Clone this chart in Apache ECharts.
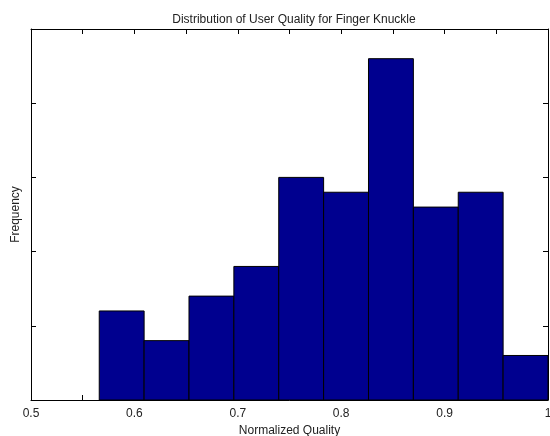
<!DOCTYPE html>
<html>
<head>
<meta charset="utf-8">
<script src="https://cdn.jsdelivr.net/npm/echarts@6/dist/echarts.min.js"></script>
<style>
  html, body { margin: 0; padding: 0; background: #fff; }
  #chart { width: 550px; height: 436px; }
</style>
</head>
<body>
<div id="chart"></div>
<script>
// histogram bins (edges of each bar, then counts)
const binStarts = [0.566, 0.6094, 0.6528, 0.6962, 0.7396, 0.783, 0.8264, 0.8698, 0.9132, 0.9566];
const binEnds   = [0.6094, 0.6528, 0.6962, 0.7396, 0.783, 0.8264, 0.8698, 0.9132, 0.9566, 1.0];
const counts    = [6, 4, 7, 9, 15, 14, 23, 13, 14, 3];

const titleText = 'Distribution of User Quality for Finger Knuckle';
const xName = 'Normalized Quality';
const yName = 'Frequency';

const font = 'Liberation Sans, Arial, sans-serif';
const textColor = '#222';

const chart = echarts.init(document.getElementById('chart'));

const data = counts.map((c, i) => [binStarts[i], binEnds[i], c]);

// tick styling shared by the four sides of the box
const xTicks = {
  type: 'value', min: 0.5, max: 1, interval: 0.1,
  axisLine: { show: true, onZero: false, lineStyle: { color: '#000', width: 1 } },
  axisTick: { show: true, inside: true, length: 5, lineStyle: { color: '#000' } },
  minorTick: { show: true, splitNumber: 2, length: 5, lineStyle: { color: '#000' } },
  splitLine: { show: false }
};
const yTicks = {
  type: 'value', min: 0, max: 25, interval: 5,
  axisLine: { show: true, onZero: false, lineStyle: { color: '#000', width: 1 } },
  axisTick: { show: true, inside: true, length: 5, lineStyle: { color: '#000' } },
  axisLabel: { show: false },
  splitLine: { show: false }
};

const option = {
  animation: false,
  backgroundColor: '#fff',
  title: {
    text: titleText,
    left: 289, top: 9, textAlign: 'center',
    textStyle: { fontFamily: font, fontSize: 12, fontWeight: 'normal', color: textColor }
  },
  grid: { left: 31, right: 2, top: 29, bottom: 36, containLabel: false, outerBoundsMode: 'none' },
  xAxis: [
    Object.assign({}, xTicks, {
      position: 'bottom',
      name: xName, nameLocation: 'middle', nameGap: 25,
      nameTextStyle: { fontFamily: font, fontSize: 12, color: textColor },
      axisLabel: {
        show: true, margin: 8, fontFamily: font, fontSize: 12, color: textColor,
        formatter: v => (Math.abs(v - 1) < 1e-9 ? '1' : v.toFixed(1))
      }
    }),
    Object.assign({}, xTicks, { position: 'top', axisLabel: { show: false } })
  ],
  yAxis: [
    Object.assign({}, yTicks, {
      position: 'left',
      name: yName, nameLocation: 'middle', nameGap: 9,
      nameTextStyle: { fontFamily: font, fontSize: 12, color: textColor }
    }),
    Object.assign({}, yTicks, { position: 'right' })
  ],
  series: [{
    type: 'custom',
    xAxisIndex: 0, yAxisIndex: 0,
    data: data,
    encode: { x: [0, 1], y: 2 },
    renderItem: function (params, api) {
      const p0 = api.coord([api.value(0), 0]);
      const p1 = api.coord([api.value(1), api.value(2)]);
      return {
        type: 'rect',
        shape: { x: p0[0], y: p1[1], width: p1[0] - p0[0], height: p0[1] - p1[1] },
        style: { fill: '#00008F', stroke: '#000', lineWidth: 1 }
      };
    }
  }]
};

chart.setOption(option);
</script>
</body>
</html>
